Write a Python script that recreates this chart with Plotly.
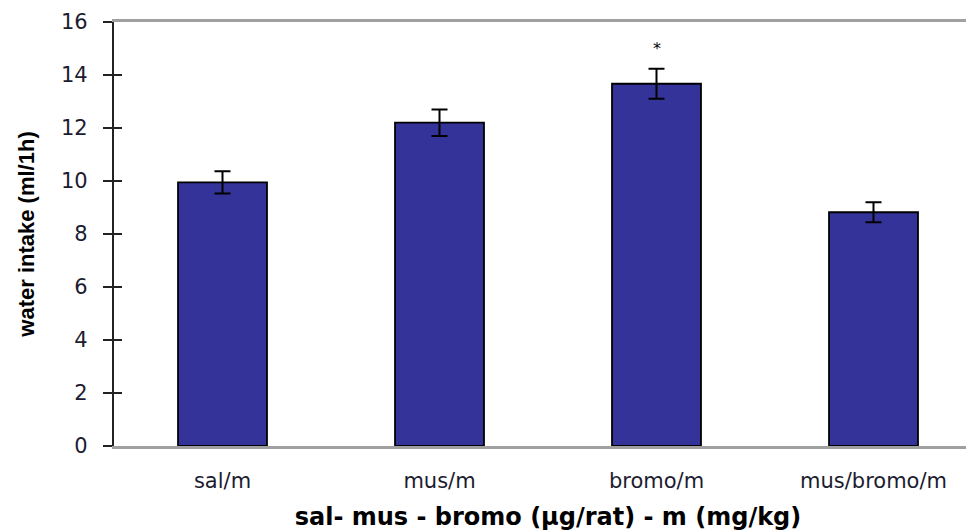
import plotly.graph_objects as go

categories = ["sal/m", "mus/m", "bromo/m", "mus/bromo/m"]
intake = [9.95, 12.2, 13.67, 8.82]
sem = [0.42, 0.5, 0.57, 0.38]
significant = ["", "", "*", ""]
y_ticks = [0, 2, 4, 6, 8, 10, 12, 14, 16]

tick_font = dict(family="DejaVu Sans, Liberation Sans", size=21, color="#1c1c30")

fig = go.Figure()
fig.add_trace(go.Bar(
    x=categories, y=intake,
    marker=dict(color="#333399", line=dict(color="#000000", width=1.8)),
    error_y=dict(type="data", array=sem, visible=True, color="#000000", thickness=2, width=8),
    width=0.41,
))

for c, v, e, s in zip(categories, intake, sem, significant):
    if s:
        fig.add_annotation(x=c, y=v + e, text=s, showarrow=False, yshift=20,
                           font=dict(family="DejaVu Sans", size=16, color="#000"))

fig.update_layout(
    width=974, height=531,
    margin=dict(l=106, r=0, t=14, b=93),
    plot_bgcolor="white", paper_bgcolor="white",
    showlegend=False,
    font=tick_font,
    xaxis=dict(
        range=[-0.5, 3.5],
        showline=True, linecolor="#a0a0a0", linewidth=2.5, mirror=True,
        ticks="", showgrid=False, ticklabelstandoff=14, tickfont=tick_font,
        automargin=False,
        title=dict(text="<b>sal- mus - bromo (µg/rat) - m (mg/kg)</b>", standoff=17,
                   font=dict(family="DejaVu Sans, Liberation Sans", size=24, color="#000")),
    ),
    yaxis=dict(
        range=[0, 16], tickvals=y_ticks,
        showline=True, linecolor="#222222", linewidth=2.2,
        ticks="outside", ticklen=9, tickwidth=1.8, tickcolor="#222222",
        showgrid=False, zeroline=False, ticklabelstandoff=11, tickfont=tick_font,
        automargin=False,
        title=dict(text="<b>water intake (ml/1h)</b>", standoff=20,
                   font=dict(family="Liberation Sans, Arial", size=22, color="#000")),
    ),
    yaxis2=dict(
        range=[0, 16], tickvals=y_ticks, overlaying="y", side="left", anchor="x",
        ticks="inside", ticklen=8, tickwidth=1.8, tickcolor="#222222",
        showticklabels=False, showgrid=False, zeroline=False, showline=False,
    ),
)
fig.add_trace(go.Scatter(x=[categories[0]], y=[0], yaxis="y2", mode="markers",
                         marker=dict(opacity=0), hoverinfo="skip"))

fig.write_html("out.html")
